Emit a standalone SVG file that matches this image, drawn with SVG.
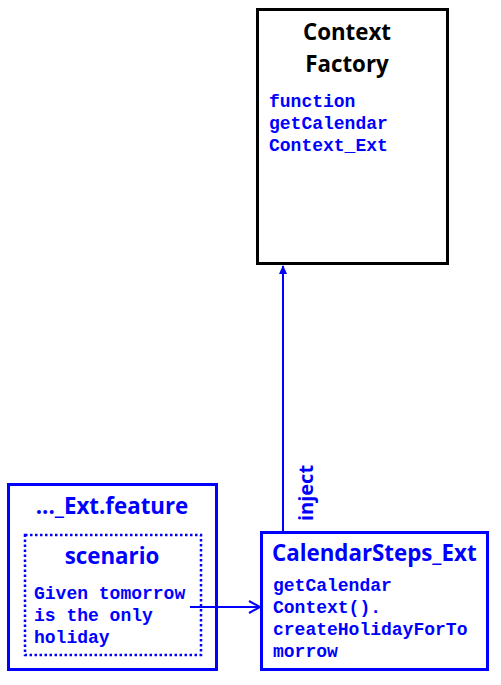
<svg xmlns="http://www.w3.org/2000/svg" width="501" height="685" viewBox="0 0 501 685">
<style>
.title{font-family:"Open Sans","Noto Sans",sans-serif;font-weight:bold;font-size:22.3px}
.mono{font-family:"Liberation Mono","Courier New",monospace;font-weight:bold;font-size:18px;fill:#0000ff}
.blue{fill:#0000ff}
.conn{stroke:#0000ff;stroke-width:2;fill:none}
</style>
<defs>
<marker id="tri" markerWidth="10" markerHeight="10" refX="8" refY="5" orient="auto" markerUnits="userSpaceOnUse">
<path d="M0,1 L9,5 L0,9 Z" fill="#0000ff"/>
</marker>
<marker id="vee" markerWidth="14" markerHeight="14" refX="12" refY="7" orient="auto" markerUnits="userSpaceOnUse">
<path d="M1,1 L12,7 L1,13" fill="none" stroke="#0000ff" stroke-width="2"/>
</marker>
</defs>
<rect width="501" height="685" fill="#ffffff"/>
<g id="context-factory">
<rect x="257.5" y="9.5" width="190" height="254" fill="#ffffff" stroke="#000000" stroke-width="3"/>
<text class="title" x="347" y="40" text-anchor="middle" fill="#000000">Context</text>
<text class="title" x="347" y="72" text-anchor="middle" fill="#000000">Factory</text>
<text class="mono" x="269" y="107">function</text>
<text class="mono" x="269" y="129">getCalendar</text>
<text class="mono" x="269" y="151">Context_Ext</text>
</g>
<g id="feature">
<rect x="8.5" y="484.5" width="208" height="185" fill="#ffffff" stroke="#0000ff" stroke-width="3"/>
<text class="title blue" x="112" y="514" text-anchor="middle">..._Ext.feature</text>
<g id="scenario">
<rect x="25" y="535" width="176" height="120" fill="none" stroke="#0000ff" stroke-width="2.5" stroke-dasharray="2.5 2.5"/>
<text class="title blue" x="112" y="564" text-anchor="middle">scenario</text>
<text class="mono" x="34" y="599">Given tomorrow</text>
<text class="mono" x="34" y="621">is the only</text>
<text class="mono" x="34" y="643">holiday</text>
</g>
</g>
<g id="calendar-steps">
<rect x="261.5" y="532.5" width="226" height="137" fill="#ffffff" stroke="#0000ff" stroke-width="3"/>
<text class="title blue" x="272" y="561">CalendarSteps_Ext</text>
<text class="mono" x="273" y="591">getCalendar</text>
<text class="mono" x="273" y="613">Context().</text>
<text class="mono" x="273" y="635">createHolidayForTo</text>
<text class="mono" x="273" y="657">morrow</text>
</g>
<g id="connectors">
<line class="conn" x1="283" y1="531" x2="283" y2="266" marker-end="url(#tri)"/>
<text class="title blue" transform="translate(313,493) rotate(-90)" text-anchor="middle" style="font-size:20px">inject</text>
<line class="conn" x1="190" y1="607" x2="260" y2="607" marker-end="url(#vee)"/>
</g>
</svg>
